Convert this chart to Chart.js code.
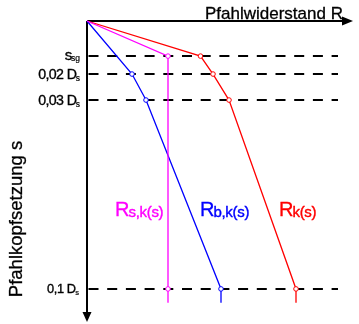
<!DOCTYPE html>
<html>
<head>
<meta charset="utf-8">
<script src="https://cdn.jsdelivr.net/npm/chart.js@4"></script>
<style>
html,body{margin:0;padding:0;background:#fff;}
canvas{display:block;}
</style>
</head>
<body>
<canvas id="c" width="359" height="324"></canvas>
<script>
// ---- data ----
// settlement levels s (0, s_sg, 0.02 Ds, 0.03 Ds, 0.1 Ds, end of line)
const sLevels = [0, 0.0131, 0.0198, 0.0295, 0.1, 0.1052];
const tickLevels = [0.0131, 0.0198, 0.0295, 0.1];
const tickMain = ["s", "0,02 D", "0,03 D", "0,1 D"];
const tickSub  = ["sg", "s", "s", "s"];
// resistance values R (arbitrary units)
const sShaft = [0, 0.0131, 0.1, 0.1052];
const RsShaft = [0, 81, 81, 81];
const sBase = [0, 0.0198, 0.0295, 0.1, 0.1052];
const RbBase = [0, 45, 59, 134, 134];
const sTotal = [0, 0.0131, 0.0198, 0.0295, 0.1, 0.1052];
const RkTotal = [0, 113.5, 126, 142, 209, 209];
const seriesNames = [["R", "s,k(s)"], ["R", "b,k(s)"], ["R", "k(s)"]];
const xTitle = "Pfahlwiderstand R";
const yTitle = "Pfahlkopfsetzung s";

const FONT = '"Liberation Sans", Arial, sans-serif';
function pts(xs, ys){ return xs.map((x,i)=>({x:x, y:ys[i]})); }
function radii(n){ return Array.from({length:n},(_,i)=> (i===0||i===n-1)?0:2.3); }

function txt(ctx, s, x, y, sw){
  ctx.fillText(s, x, y);
  if (sw){ ctx.lineWidth = sw; ctx.strokeStyle = ctx.fillStyle; ctx.strokeText(s, x, y); }
}

const decor = {
  id:'decor',
  beforeDatasetsDraw(chart){
    const ctx = chart.ctx, xs = chart.scales.x, ys = chart.scales.y;
    const x0 = xs.getPixelForValue(0), y0 = ys.getPixelForValue(0);
    ctx.save();
    ctx.strokeStyle = '#000'; ctx.lineWidth = 2; ctx.setLineDash([10, 8.7]);
    tickLevels.forEach(v=>{
      const y = Math.round(ys.getPixelForValue(v));
      ctx.beginPath(); ctx.moveTo(x0+1.5, y); ctx.lineTo(338, y); ctx.stroke();
    });
    ctx.setLineDash([]);
    ctx.lineWidth = 2;
    ctx.beginPath(); ctx.moveTo(x0, y0); ctx.lineTo(345, y0); ctx.stroke();
    ctx.beginPath(); ctx.moveTo(x0, y0); ctx.lineTo(x0, 314); ctx.stroke();
    ctx.fillStyle = '#000';
    ctx.beginPath(); ctx.moveTo(353, y0); ctx.lineTo(342, y0-4.5); ctx.lineTo(342, y0+4.5); ctx.closePath(); ctx.fill();
    ctx.beginPath(); ctx.moveTo(x0, 322); ctx.lineTo(x0-4.5, 312); ctx.lineTo(x0+4.5, 312); ctx.closePath(); ctx.fill();
    ctx.restore();
  },
  afterDraw(chart){
    const ctx = chart.ctx, ys = chart.scales.y;
    ctx.save();
    ctx.fillStyle = '#000';
    ctx.textBaseline='alphabetic';
    tickLevels.forEach((v,i)=>{
      const y = ys.getPixelForValue(v);
      const small = (i===3);
      const right = small ? 79 : 80;
      ctx.textAlign='right';
      ctx.letterSpacing = '0px';
      ctx.font = (small? 7.5 : 8.5) + 'px ' + FONT;
      const sw = ctx.measureText(tickSub[i]).width;
      const base = i===0 ? y+3.8 : y + (small?4.4:5.2);
      txt(ctx, tickSub[i], right, base+1.5, 0.2);
      ctx.font = (small? 12.8 : (i===0?15:14.2)) + 'px ' + FONT;
      ctx.letterSpacing = small ? '-0.4px' : '-0.6px';
      txt(ctx, tickMain[i], right - sw + (small?0.4:0.6), base, 0.35);
    });
    ctx.letterSpacing = '0px';
    ctx.textAlign='left';
    ctx.font = '17px ' + FONT;
    txt(ctx, xTitle, 205, 18.5, 0.3);
    ctx.save();
    ctx.translate(22, 219); ctx.rotate(-Math.PI/2);
    ctx.letterSpacing = '0px';
    ctx.font = '18.5px ' + FONT; ctx.textAlign='center';
    txt(ctx, yTitle, 0, 0, 0.3);
    ctx.restore();
    const lx = [115, 200, 279], cols = ['#ff00ff', '#0000ff', '#ff0000'];
    seriesNames.forEach((n,i)=>{
      ctx.fillStyle = cols[i];
      ctx.textAlign='left';
      ctx.letterSpacing = '0px';
      ctx.font = '20px ' + FONT;
      txt(ctx, n[0], lx[i], 216, 0.3);
      const w = ctx.measureText(n[0]).width;
      ctx.letterSpacing = '-0.3px';
      ctx.font = '15px ' + FONT;
      txt(ctx, n[1], lx[i] + w - 1, 216.5, 0.4);
    });
    ctx.restore();
  }
};

const common = {showLine:true, borderWidth:1.3, pointBackgroundColor:'#fff', pointBorderWidth:1, pointHoverRadius:0, tension:0, clip:false};
new Chart(document.getElementById('c'), {
  type:'scatter',
  data:{datasets:[
    Object.assign({label:'Rs', data:pts(RsShaft, sShaft), borderColor:'#ff00ff', pointBorderColor:'#ff00ff', pointRadius:radii(sShaft.length)}, common),
    Object.assign({label:'Rb', data:pts(RbBase, sBase), borderColor:'#0000ff', pointBorderColor:'#0000ff', pointRadius:radii(sBase.length)}, common),
    Object.assign({label:'Rk', data:pts(RkTotal, sTotal), borderColor:'#ff0000', pointBorderColor:'#ff0000', pointRadius:radii(sTotal.length)}, common)
  ]},
  options:{
    responsive:false, animation:false,
    layout:{padding:{left:87, top:21, right:6, bottom:4}},
    plugins:{legend:{display:false}, tooltip:{enabled:false}},
    scales:{
      x:{type:'linear', display:false, min:0, max:266},
      y:{type:'linear', display:false, reverse:true, min:0, max:0.1116}
    }
  },
  plugins:[decor]
});
</script>
</body>
</html>
